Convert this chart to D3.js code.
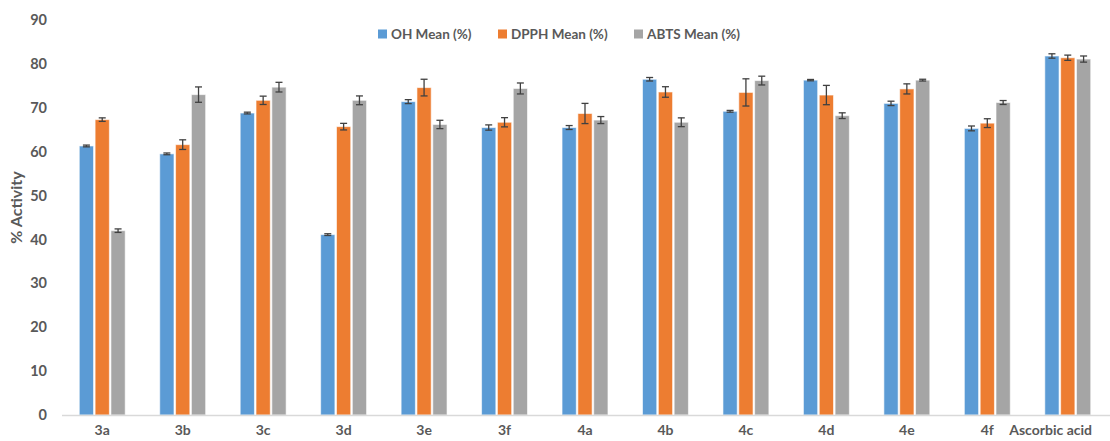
<!DOCTYPE html>
<html>
<head>
<meta charset="utf-8">
<script src="https://cdn.jsdelivr.net/npm/d3@7"></script>
<style>
  html, body { margin: 0; padding: 0; background: #fff; }
  svg text { font-family: Lato, "Open Sans", sans-serif; font-weight: 700; fill: #595959; }
</style>
</head>
<body>
<svg id="chart" width="1110" height="441"></svg>
<script>
// Compounds tested
const categories = ["3a", "3b", "3c", "3d", "3e", "3f", "4a", "4b", "4c", "4d", "4e", "4f", "Ascorbic acid"];
const seriesNames = ["OH Mean (%)", "DPPH Mean (%)", "ABTS Mean (%)"];

// Mean activity (%) per assay
const ohMean   = [61.3, 59.5, 68.8, 41.1, 71.4, 65.5, 65.5, 76.5, 69.2, 76.3, 71.0, 65.3, 81.8];
const dpphMean = [67.3, 61.6, 71.7, 65.7, 74.6, 66.7, 68.7, 73.6, 73.5, 72.9, 74.3, 66.5, 81.4];
const abtsMean = [42.0, 73.0, 74.7, 71.7, 66.2, 74.4, 67.2, 66.7, 76.2, 68.2, 76.3, 71.2, 81.1];

// Standard deviation per assay
const ohErr   = [0.2, 0.2, 0.2, 0.2, 0.45, 0.6, 0.45, 0.4, 0.2, 0.15, 0.5, 0.55, 0.5];
const dpphErr = [0.4, 1.1, 0.95, 0.75, 1.9, 1.05, 2.3, 1.2, 3.1, 2.2, 1.15, 1.0, 0.6];
const abtsErr = [0.4, 1.75, 1.1, 1.0, 0.95, 1.25, 0.8, 1.0, 1.0, 0.65, 0.2, 0.45, 0.7];

const yTicks = [0, 10, 20, 30, 40, 50, 60, 70, 80, 90];
const colors = ["#5B9BD5", "#ED7D31", "#A5A5A5"];

const means = [ohMean, dpphMean, abtsMean];
const errs = [ohErr, dpphErr, abtsErr];

const svg = d3.select("#chart");
const margin = { left: 62, right: 2, top: 20, bottom: 26 };
const W = 1110, H = 441;

const x0 = d3.scaleBand()
  .domain(categories)
  .range([margin.left, W - margin.right])
  .paddingInner(0.39)
  .paddingOuter(0.195);

const x1 = d3.scaleBand()
  .domain(d3.range(3))
  .range([0, x0.bandwidth()])
  .padding(0.1);

const y = d3.scaleLinear().domain([0, 90]).range([H - margin.bottom, margin.top]);

// Bars
const groups = svg.append("g").selectAll("g")
  .data(categories)
  .join("g")
  .attr("transform", d => `translate(${x0(d)},0)`);

groups.selectAll("rect")
  .data((d, i) => means.map((m, s) => ({ s, v: m[i], e: errs[s][i] })))
  .join("rect")
  .attr("x", d => x1(d.s))
  .attr("width", x1.bandwidth())
  .attr("y", d => y(d.v))
  .attr("height", d => y(0) - y(d.v))
  .attr("fill", d => colors[d.s])
  .attr("stroke", "#ffffff")
  .attr("stroke-opacity", 0.6)
  .attr("stroke-width", 1);

// Error bars
const eb = groups.selectAll("g.err")
  .data((d, i) => means.map((m, s) => ({ s, v: m[i], e: errs[s][i] })))
  .join("g")
  .attr("class", "err")
  .attr("stroke", "#404040")
  .attr("stroke-width", 1.3);

eb.append("line")
  .attr("x1", d => x1(d.s) + x1.bandwidth() / 2)
  .attr("x2", d => x1(d.s) + x1.bandwidth() / 2)
  .attr("y1", d => y(d.v - d.e))
  .attr("y2", d => y(d.v + d.e));
[-1, 1].forEach(sign => {
  eb.append("line")
    .attr("x1", d => x1(d.s) + x1.bandwidth() / 2 - 3.5)
    .attr("x2", d => x1(d.s) + x1.bandwidth() / 2 + 3.5)
    .attr("y1", d => y(d.v + sign * d.e))
    .attr("y2", d => y(d.v + sign * d.e));
});

// X axis
const xAxis = svg.append("g")
  .attr("transform", `translate(0,${y(0)})`)
  .call(d3.axisBottom(x0).tickSize(0).tickPadding(10));
xAxis.select(".domain").attr("stroke", "#d9d9d9").attr("stroke-width", 1.3)
  .attr("d", `M${margin.left},0.5H${W}`);
xAxis.selectAll("text").attr("font-size", 14).style("fill", "#595959");
// keep labels inside the drawing area
xAxis.selectAll(".tick").each(function () {
  const t = d3.select(this).select("text");
  const len = t.node().getComputedTextLength();
  const cx = x0(t.text()) + x0.bandwidth() / 2;
  const overflow = cx + len / 2 - (W - 18);
  if (overflow > 0) t.attr("dx", -overflow);
});

// Y axis
const yAxis = svg.append("g")
  .attr("transform", `translate(${margin.left},0)`)
  .call(d3.axisLeft(y).tickValues(yTicks).tickSize(0).tickPadding(15));
yAxis.select(".domain").remove();
yAxis.selectAll("text").attr("font-size", 14.5).style("fill", "#595959");

svg.append("text")
  .attr("transform", `translate(22,${(y(0) + y(90)) / 2 - 10}) rotate(-90)`)
  .attr("text-anchor", "middle")
  .attr("font-size", 16)
  .text("% Activity");

// Legend
const legendX = [378, 498, 634];
const legend = svg.append("g").selectAll("g")
  .data(seriesNames)
  .join("g")
  .attr("transform", (d, i) => `translate(${legendX[i]},34)`);
legend.append("rect")
  .attr("x", 0).attr("y", -4.5).attr("width", 9).attr("height", 9)
  .attr("fill", (d, i) => colors[i]);
legend.append("text")
  .attr("x", 13).attr("dy", "0.35em")
  .attr("font-size", 13.5)
  .text(d => d);
</script>
</body>
</html>
